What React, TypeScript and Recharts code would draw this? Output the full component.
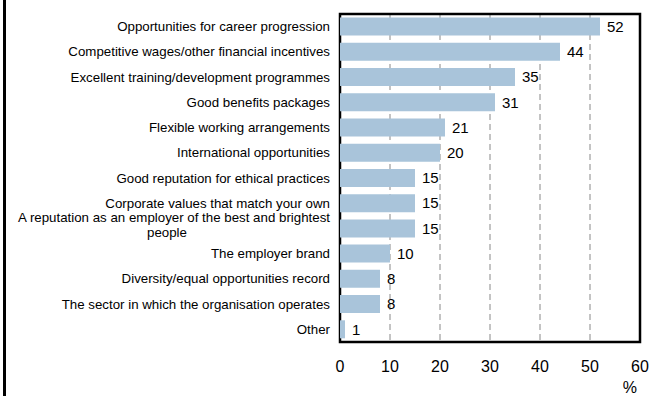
import React from 'react';
import { BarChart, Bar, XAxis, YAxis, CartesianGrid, LabelList, ReferenceArea } from 'recharts';

const categories = [
  'Opportunities for career progression',
  'Competitive wages/other financial incentives',
  'Excellent training/development programmes',
  'Good benefits packages',
  'Flexible working arrangements',
  'International opportunities',
  'Good reputation for ethical practices',
  'Corporate values that match your own',
  'A reputation as an employer of the best and brightest people',
  'The employer brand',
  'Diversity/equal opportunities record',
  'The sector in which the organisation operates',
  'Other',
];
const values = [52, 44, 35, 31, 21, 20, 15, 15, 15, 10, 8, 8, 1];
const xTicks = [0, 10, 20, 30, 40, 50, 60];

const data = categories.map((name, i) => ({ name, value: values[i] }));

const FONT = '"Liberation Sans", Arial, sans-serif';

function wrap(label: string, maxChars: number): string[] {
  const words = label.split(' ');
  const lines: string[] = [];
  let cur = '';
  for (const w of words) {
    const next = cur ? cur + ' ' + w : w;
    if (next.length > maxChars && cur) {
      lines.push(cur);
      cur = w;
    } else cur = next;
  }
  if (cur) lines.push(cur);
  return lines;
}

const YTick = (props: any) => {
  const { x, y, payload } = props;
  const lines = wrap(payload.value, 55);
  if (lines.length === 1) {
    return (
      <text x={x} y={y} dy={4.5} textAnchor="end" fontSize={13.3} fill="#000" fontFamily={FONT}>
        {lines[0]}
      </text>
    );
  }
  return (
    <g>
      <text x={x} y={y - 10.5} dy={4.5} textAnchor="end" fontSize={13.3} fill="#000" fontFamily={FONT}>
        {lines[0]}
      </text>
      <text x={x - 163} y={y + 4.5} dy={4.5} textAnchor="middle" fontSize={13.3} fill="#000" fontFamily={FONT}>
        {lines[1]}
      </text>
    </g>
  );
};

export default function App() {
  return (
    <div style={{ position: 'absolute', left: 0, top: 0, width: 664, height: 396, background: '#fff' }}>
      <div style={{ position: 'absolute', left: 3, top: 0, width: 3, height: 396, background: '#000' }} />
      <BarChart
        width={664}
        height={396}
        data={data}
        layout="vertical"
        margin={{ top: 14, right: 24, bottom: 0, left: 0 }}
        barCategoryGap="14%"
        style={{ fontFamily: FONT }}
      >
        <CartesianGrid horizontal={false} vertical={true} stroke="#888" strokeDasharray="6 4" />
        <XAxis
          type="number"
          domain={[0, 60]}
          ticks={xTicks}
          axisLine={false}
          tickLine={false}
          height={54}
          tick={{ fill: '#000', fontSize: 16, fontFamily: FONT }}
          tickMargin={13}
          interval={0}
          label={{ value: '%', position: 'insideBottomRight', offset: 3, fill: '#000', fontSize: 16, fontFamily: FONT }}
        />
        <YAxis
          type="category"
          dataKey="name"
          width={340}
          axisLine={false}
          tickLine={false}
          tick={<YTick />}
          tickMargin={4}
          interval={0}
        />
        <Bar dataKey="value" fill="#A9C4DA" isAnimationActive={false}>
          <LabelList dataKey="value" position="right" offset={7} fill="#000" fontSize={15} fontFamily={FONT} />
        </Bar>
        <ReferenceArea x1={0} x2={60} fill="none" fillOpacity={0} stroke="#000" strokeWidth={2.5} ifOverflow="visible" />
      </BarChart>
    </div>
  );
}
